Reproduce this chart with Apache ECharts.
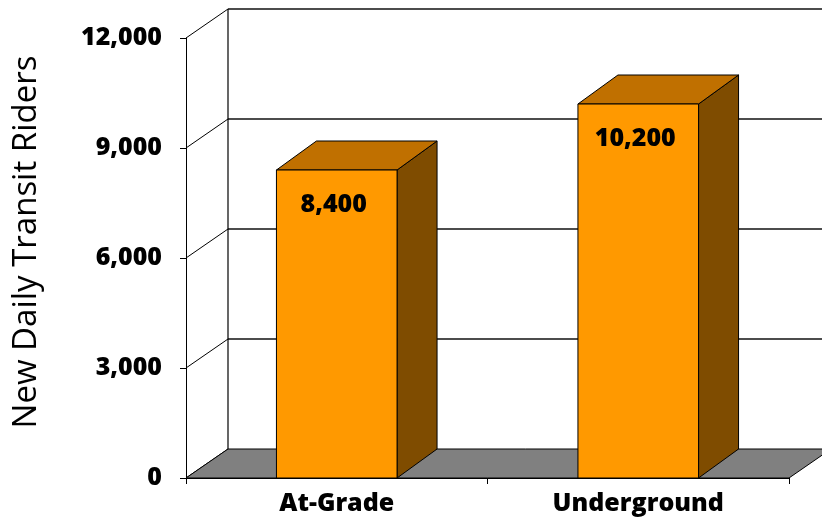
<!DOCTYPE html>
<html><head><meta charset="utf-8">
<script src="https://cdn.jsdelivr.net/npm/echarts@6/dist/echarts.min.js"></script>
<style>html,body{margin:0;padding:0;background:#fff}#c{width:822px;height:524px}</style>
</head><body><div id="c"></div>
<script>
const categories = ['At-Grade', 'Underground'];
const riders = [8400, 10200];
const yTicks = [0, 3000, 6000, 9000, 12000];
const yTitle = 'New Daily Transit Riders';

const FONT = '"Open Sans", Lato, sans-serif';
const DX = 42, DY = -29;     // chart depth offset
const BDX = 40, BDY = -29;   // bar depth offset

function fmt(v) { return Number(v).toLocaleString('en-US'); }

function renderWalls(params, api) {
  if (params.dataIndex !== 0) return;
  const cs = params.coordSys;
  const L = cs.x, R = cs.x + cs.width, B = cs.y + cs.height, T = cs.y;
  const children = [];
  yTicks.forEach(function (v) {
    const y = api.coord([0, v])[1];
    children.push({ type: 'line', shape: { x1: L, y1: y, x2: L + DX, y2: y + DY }, style: { stroke: '#000', lineWidth: 1 } });
    if (v > 0) children.push({ type: 'line', shape: { x1: L + DX, y1: y + DY, x2: R + DX + 20, y2: y + DY }, style: { stroke: '#111', lineWidth: 1.5 } });
  });
  children.push({ type: 'line', shape: { x1: L + DX, y1: T + DY, x2: L + DX, y2: B + DY }, style: { stroke: '#000', lineWidth: 1.2 } });
  children.push({ type: 'polygon', shape: { points: [[L, B], [R, B], [R + DX, B + DY], [L + DX, B + DY]] }, style: { fill: '#808080', stroke: '#000', lineWidth: 1 } });
  return { type: 'group', children: children };
}

function renderBar(params, api) {
  const idx = api.value(0), v = api.value(1);
  const top = api.coord([idx, v]), base = api.coord([idx, 0]);
  const w = api.size([1, 0])[0] * 0.4;
  const x0 = top[0] - w / 2, x1 = top[0] + w / 2, yt = top[1], yb = base[1];
  return {
    type: 'group', children: [
      { type: 'polygon', shape: { points: [[x1, yt], [x1 + BDX, yt + BDY], [x1 + BDX, yb + BDY], [x1, yb]] }, style: { fill: '#7F4C00', stroke: '#000', lineWidth: 1 } },
      { type: 'polygon', shape: { points: [[x0, yt], [x0 + BDX, yt + BDY], [x1 + BDX, yt + BDY], [x1, yt]] }, style: { fill: '#C07000', stroke: '#000', lineWidth: 1 } },
      { type: 'rect', shape: { x: x0, y: yt, width: w, height: yb - yt }, style: { fill: '#FF9900', stroke: '#000', lineWidth: 1 } },
      { type: 'text', x: (x0 + x1) / 2 - 3, y: yt + 35, style: { text: fmt(v), font: '800 25px ' + FONT, fill: '#000', align: 'center', verticalAlign: 'middle' } }
    ]
  };
}

const chart = echarts.init(document.getElementById('c'), null, { renderer: 'canvas' });
chart.setOption({
  animation: false,
  backgroundColor: '#fff',
  grid: { left: 186, right: 33, top: 38, bottom: 46 },
  graphic: [{
    type: 'text', x: 27, y: 242, rotation: Math.PI / 2,
    style: { text: yTitle, font: '33px ' + FONT, fill: '#000', align: 'center', verticalAlign: 'middle' }
  }],
  xAxis: {
    type: 'category', data: categories,
    axisLine: { show: true, lineStyle: { color: '#000', width: 1 } },
    axisTick: { show: true, length: 6, lineStyle: { color: '#000' } },
    axisLabel: { color: '#000', fontFamily: FONT, fontWeight: 800, fontSize: 25, margin: 13 },
    splitLine: { show: false }
  },
  yAxis: {
    type: 'value', min: 0, max: 12000, interval: 3000,
    axisLine: { show: true, lineStyle: { color: '#000', width: 1 } },
    axisTick: { show: true, length: 6, lineStyle: { color: '#000' } },
    axisLabel: { color: '#000', fontFamily: FONT, fontWeight: 800, fontSize: 25, margin: 24, formatter: fmt },
    splitLine: { show: false }
  },
  series: [
    { type: 'custom', name: 'walls', renderItem: renderWalls, data: [[0, 0]], encode: { x: 0, y: 1 }, z: 1, silent: true },
    { type: 'custom', name: 'riders', renderItem: renderBar, data: categories.map(function (c, i) { return [i, riders[i]]; }), encode: { x: 0, y: 1 }, z: 3 }
  ]
});
</script></body></html>
